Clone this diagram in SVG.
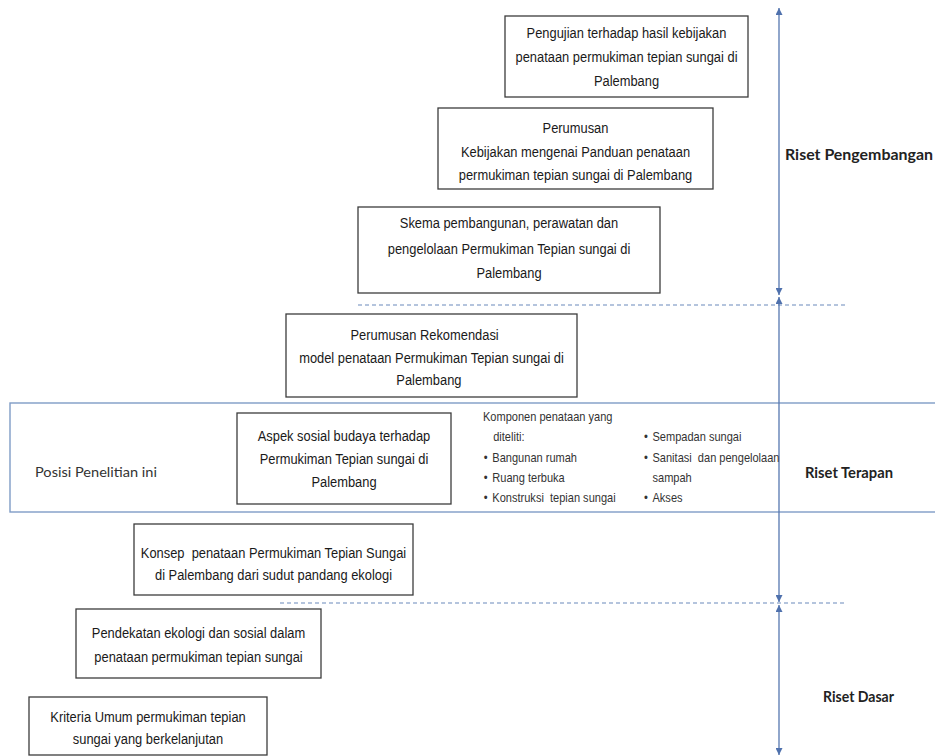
<svg xmlns="http://www.w3.org/2000/svg" width="935" height="756" viewBox="0 0 935 756">
<style>
.box{fill:#fff;stroke:#3c3c3c;stroke-width:1.3}
.t{font-family:"Liberation Sans",Arial,sans-serif;font-size:15px;fill:#1a1a1a;text-anchor:middle}
.c{font-family:"Liberation Sans",Arial,sans-serif;font-size:13px;fill:#333}
.lab{font-family:Lato,"Liberation Sans",sans-serif;font-size:15px;font-weight:bold;fill:#222}
.pos{font-family:Lato,"Liberation Sans",sans-serif;font-size:14px;fill:#333}
.band{fill:none;stroke:#7f9cc6;stroke-width:1.4}
.dash{stroke:#6a89bb;stroke-width:1.1;stroke-dasharray:4 3;fill:none}
.arr{stroke:#5577b0;stroke-width:1.3;fill:none;marker-start:url(#ah);marker-end:url(#ah)}
</style>
<defs>
<marker id="ah" viewBox="0 0 10 10" refX="10" refY="5" markerWidth="8" markerHeight="7" markerUnits="userSpaceOnUse" orient="auto-start-reverse">
<path d="M0,0 L10,5 L0,10 Z" fill="#4f71ad"/>
</marker>
</defs>
<rect width="935" height="756" fill="#fff"/>

<g id="band">
<rect class="band" x="10" y="403" width="940" height="109"/>
<text class="pos" x="35" y="477" textLength="122" lengthAdjust="spacingAndGlyphs">Posisi Penelitian ini</text>
</g>

<g id="connectors">
<line class="dash" x1="358" y1="305" x2="845" y2="305"/>
<line class="dash" x1="280" y1="603" x2="847" y2="603"/>
<line class="arr" x1="779" y1="8" x2="779" y2="295"/>
<line class="arr" x1="779" y1="297" x2="779" y2="602"/>
<line class="arr" x1="779" y1="605" x2="779" y2="755"/>
</g>

<g id="n1">
<rect class="box" x="505" y="16" width="243" height="81"/>
<text class="t" transform="translate(626.5 0) scale(0.86 1)"><tspan x="0" y="38">Pengujian terhadap hasil kebijakan</tspan><tspan x="0" y="62">penataan permukiman tepian sungai di</tspan><tspan x="0" y="86">Palembang</tspan></text>
</g>

<g id="n2">
<rect class="box" x="438" y="108" width="275" height="81"/>
<text class="t" transform="translate(575.5 0) scale(0.86 1)"><tspan x="0" y="133">Perumusan</tspan><tspan x="0" y="157">Kebijakan mengenai Panduan penataan</tspan><tspan x="0" y="180">permukiman tepian sungai di Palembang</tspan></text>
</g>

<g id="n3">
<rect class="box" x="358" y="207" width="302" height="86"/>
<text class="t" transform="translate(509 0) scale(0.86 1)"><tspan x="0" y="228">Skema pembangunan, perawatan dan</tspan><tspan x="0" y="254">pengelolaan Permukiman Tepian sungai di</tspan><tspan x="0" y="278">Palembang</tspan></text>
</g>

<g id="n4">
<rect class="box" x="286" y="314" width="291" height="83"/>
<text class="t" transform="translate(431.5 0) scale(0.86 1)"><tspan x="-8" y="340">Perumusan Rekomendasi</tspan><tspan x="0" y="363">model penataan Permukiman Tepian sungai di</tspan><tspan x="-3" y="385">Palembang</tspan></text>
</g>

<g id="n5">
<rect class="box" x="237" y="413" width="214" height="91"/>
<text class="t" transform="translate(344 0) scale(0.86 1)"><tspan x="0" y="441">Aspek sosial budaya terhadap</tspan><tspan x="0" y="464">Permukiman Tepian sungai di</tspan><tspan x="0" y="487">Palembang</tspan></text>
</g>

<g id="komponen">
<text class="c" xml:space="preserve" transform="translate(483 0) scale(0.85 1)"><tspan x="0" y="421">Komponen penataan yang</tspan><tspan x="12" y="441">diteliti:</tspan><tspan x="1" y="462">•</tspan><tspan x="11" y="462">Bangunan rumah</tspan><tspan x="1" y="482">•</tspan><tspan x="11" y="482">Ruang terbuka</tspan><tspan x="1" y="502">•</tspan><tspan x="11" y="502">Konstruksi  tepian sungai</tspan></text>
<text class="c" xml:space="preserve" transform="translate(644 0) scale(0.85 1)"><tspan x="0" y="441">•</tspan><tspan x="10" y="441">Sempadan sungai</tspan><tspan x="0" y="462">•</tspan><tspan x="10" y="462">Sanitasi  dan pengelolaan</tspan><tspan x="10" y="482">sampah</tspan><tspan x="0" y="502">•</tspan><tspan x="10" y="502">Akses</tspan></text>
</g>

<g id="n6">
<rect class="box" x="134" y="524" width="279" height="71"/>
<text class="t" xml:space="preserve" transform="translate(273.5 0) scale(0.86 1)"><tspan x="0" y="558">Konsep  penataan Permukiman Tepian Sungai</tspan><tspan x="0" y="580">di Palembang dari sudut pandang ekologi</tspan></text>
</g>

<g id="n7">
<rect class="box" x="76" y="609" width="245" height="69"/>
<text class="t" transform="translate(198.5 0) scale(0.86 1)"><tspan x="0" y="638">Pendekatan ekologi dan sosial dalam</tspan><tspan x="0" y="662">penataan permukiman tepian sungai</tspan></text>
</g>

<g id="n8">
<rect class="box" x="29" y="697" width="238" height="58"/>
<text class="t" transform="translate(148 0) scale(0.86 1)"><tspan x="0" y="722">Kriteria Umum permukiman tepian</tspan><tspan x="0" y="744">sungai yang berkelanjutan</tspan></text>
</g>

<g id="labels">
<text class="lab" x="785" y="160" textLength="148" lengthAdjust="spacingAndGlyphs">Riset Pengembangan</text>
<text class="lab" x="805" y="478" textLength="88" lengthAdjust="spacingAndGlyphs">Riset Terapan</text>
<text class="lab" x="823" y="702" textLength="71" lengthAdjust="spacingAndGlyphs">Riset Dasar</text>
</g>
</svg>
